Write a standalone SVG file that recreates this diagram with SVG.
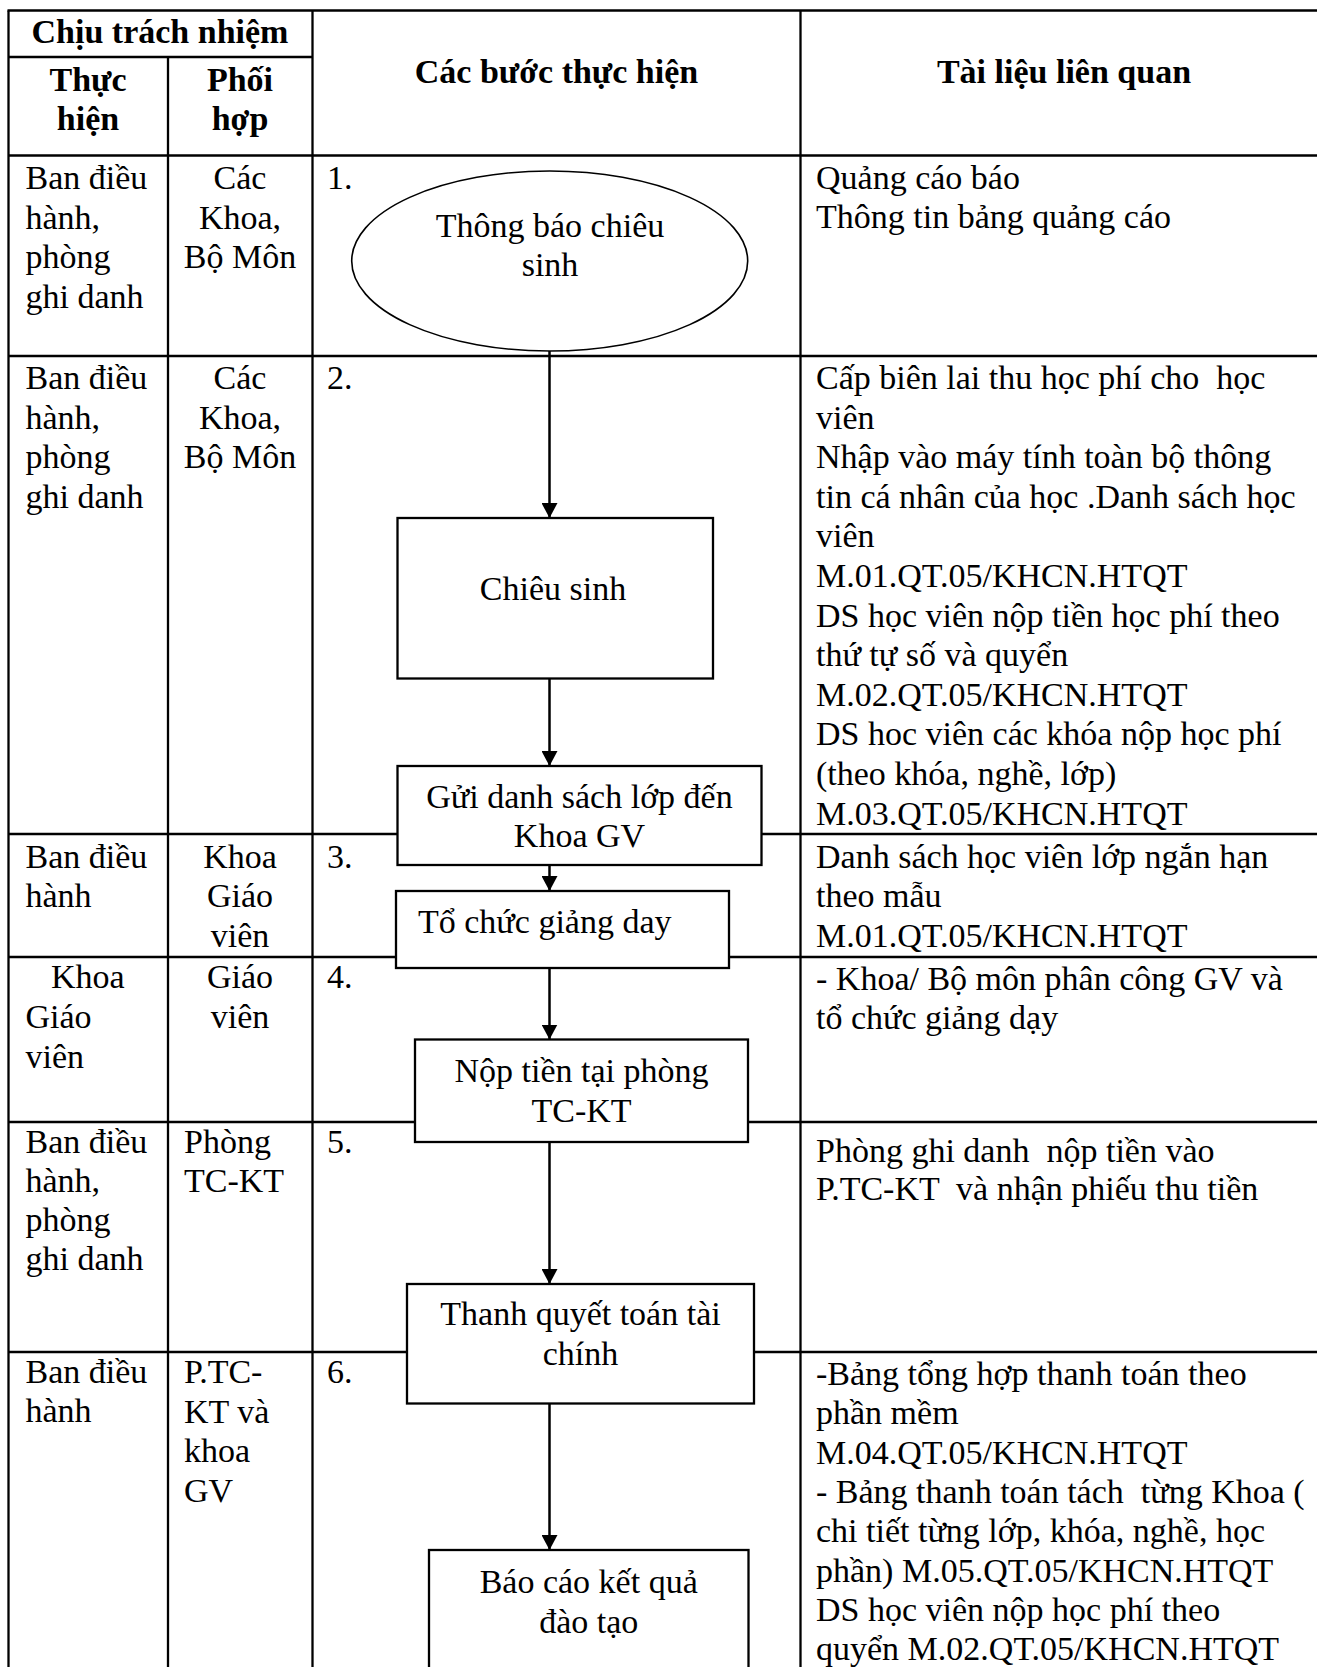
<svg xmlns="http://www.w3.org/2000/svg" width="1317" height="1667" viewBox="0 0 1317 1667">
<defs>
<style>
text{font-family:"Liberation Serif","Times New Roman",serif;font-size:34px;fill:#000;white-space:pre}
.b{font-weight:bold}
.c{text-anchor:middle}
.grid line{stroke:#000;stroke-width:2.3}
.box{fill:#fff;stroke:#000;stroke-width:2.3}
.conn line{stroke:#000;stroke-width:2.5}
</style>
<marker id="ah" markerUnits="userSpaceOnUse" markerWidth="15" markerHeight="16" refX="15" refY="8" orient="auto">
<path d="M0,0 L15,8 L0,16 z" fill="#000"/>
</marker>
</defs>
<rect width="1317" height="1667" fill="#fff"/>
<g id="table" class="grid">
<line x1="7.5" y1="10.5" x2="1317" y2="10.5"/>
<line x1="8.5" y1="10.5" x2="8.5" y2="1667"/>
<line x1="8.5" y1="57" x2="312.5" y2="57"/>
<line x1="168" y1="57" x2="168" y2="1667"/>
<line x1="312.5" y1="10.5" x2="312.5" y2="1667"/>
<line x1="800.5" y1="10.5" x2="800.5" y2="1667"/>
<line x1="8.5" y1="155.5" x2="1317" y2="155.5"/>
<line x1="8.5" y1="356" x2="1317" y2="356"/>
<line x1="8.5" y1="834" x2="1317" y2="834"/>
<line x1="8.5" y1="957" x2="1317" y2="957"/>
<line x1="8.5" y1="1122" x2="1317" y2="1122"/>
<line x1="8.5" y1="1352" x2="1317" y2="1352"/>
</g>
<g id="headers">
<text class="b c" x="160" y="43">Chịu trách nhiệm</text>
<text class="b c" x="88" y="90.5">Thực</text>
<text class="b c" x="88" y="130">hiện</text>
<text class="b c" x="240" y="90.5">Phối</text>
<text class="b c" x="240" y="129.5">hợp</text>
<text class="b c" x="556.5" y="82.5">Các bước thực hiện</text>
<text class="b c" x="1064" y="82.5">Tài liệu liên quan</text>
</g>
<g id="row1">
<text x="25.5" y="189"><tspan x="25.5">Ban điều</tspan><tspan x="25.5" dy="39.5">hành,</tspan><tspan x="25.5" dy="39.5">phòng</tspan><tspan x="25.5" dy="39.5">ghi danh</tspan></text>
<text class="c" x="240" y="189"><tspan x="240">Các</tspan><tspan x="240" dy="39.5">Khoa,</tspan><tspan x="240" dy="39.5">Bộ Môn</tspan></text>
<text x="327" y="189">1.</text>
<text x="816" y="189"><tspan x="816">Quảng cáo báo</tspan><tspan x="816" dy="39">Thông tin bảng quảng cáo</tspan></text>
</g>
<g id="row2">
<text x="25.5" y="389"><tspan x="25.5">Ban điều</tspan><tspan x="25.5" dy="39.5">hành,</tspan><tspan x="25.5" dy="39.5">phòng</tspan><tspan x="25.5" dy="39.5">ghi danh</tspan></text>
<text class="c" x="240" y="389"><tspan x="240">Các</tspan><tspan x="240" dy="39.5">Khoa,</tspan><tspan x="240" dy="39.5">Bộ Môn</tspan></text>
<text x="327" y="389">2.</text>
<text x="816" y="389"><tspan x="816">Cấp biên lai thu học phí cho  học</tspan><tspan x="816" dy="39.6">viên</tspan><tspan x="816" dy="39.6">Nhập vào máy tính toàn bộ thông</tspan><tspan x="816" dy="39.6">tin cá nhân của học .Danh sách học</tspan><tspan x="816" dy="39.6">viên</tspan><tspan x="816" dy="39.6">M.01.QT.05/KHCN.HTQT</tspan><tspan x="816" dy="39.6">DS học viên nộp tiền học phí theo</tspan><tspan x="816" dy="39.6">thứ tự số và quyển</tspan><tspan x="816" dy="39.6">M.02.QT.05/KHCN.HTQT</tspan><tspan x="816" dy="39.6">DS hoc viên các khóa nộp học phí</tspan><tspan x="816" dy="39.6">(theo khóa, nghề, lớp)</tspan><tspan x="816" dy="39.6">M.03.QT.05/KHCN.HTQT</tspan></text>
</g>
<g id="row3">
<text x="25.5" y="867.5"><tspan x="25.5">Ban điều</tspan><tspan x="25.5" dy="39.5">hành</tspan></text>
<text class="c" x="240" y="867.5"><tspan x="240">Khoa</tspan><tspan x="240" dy="39.5">Giáo</tspan><tspan x="240" dy="39.5">viên</tspan></text>
<text x="327" y="867.5">3.</text>
<text x="816" y="867.5"><tspan x="816">Danh sách học viên lớp ngắn hạn</tspan><tspan x="816" dy="39.6">theo mẫu</tspan><tspan x="816" dy="39.6">M.01.QT.05/KHCN.HTQT</tspan></text>
</g>
<g id="row4">
<text x="51" y="988">Khoa</text>
<text x="25.5" y="1028"><tspan x="25.5">Giáo</tspan><tspan x="25.5" dy="40">viên</tspan></text>
<text class="c" x="240" y="988"><tspan x="240">Giáo</tspan><tspan x="240" dy="40">viên</tspan></text>
<text x="327" y="988">4.</text>
<text x="816" y="990"><tspan x="816">- Khoa/ Bộ môn phân công GV và</tspan><tspan x="816" dy="38.5">tổ chức giảng dạy</tspan></text>
</g>
<g id="row5">
<text x="25.5" y="1153"><tspan x="25.5">Ban điều</tspan><tspan x="25.5" dy="39">hành,</tspan><tspan x="25.5" dy="39">phòng</tspan><tspan x="25.5" dy="39">ghi danh</tspan></text>
<text x="184" y="1153"><tspan x="184">Phòng</tspan><tspan x="184" dy="39">TC-KT</tspan></text>
<text x="327" y="1153">5.</text>
<text x="816" y="1161.5"><tspan x="816">Phòng ghi danh  nộp tiền vào</tspan><tspan x="816" dy="38.5">P.TC-KT  và nhận phiếu thu tiền</tspan></text>
</g>
<g id="row6">
<text x="25.5" y="1383"><tspan x="25.5">Ban điều</tspan><tspan x="25.5" dy="39">hành</tspan></text>
<text x="184" y="1383"><tspan x="184">P.TC-</tspan><tspan x="184" dy="39.5">KT và</tspan><tspan x="184" dy="39.5">khoa</tspan><tspan x="184" dy="39.5">GV</tspan></text>
<text x="327" y="1383">6.</text>
<text x="816" y="1385"><tspan x="816">-Bảng tổng hợp thanh toán theo</tspan><tspan x="816" dy="39.3">phần mềm</tspan><tspan x="816" dy="39.3">M.04.QT.05/KHCN.HTQT</tspan><tspan x="816" dy="39.3">- Bảng thanh toán tách  từng Khoa (</tspan><tspan x="816" dy="39.3">chi tiết từng lớp, khóa, nghề, học</tspan><tspan x="816" dy="39.3">phần) M.05.QT.05/KHCN.HTQT</tspan><tspan x="816" dy="39.3">DS học viên nộp học phí theo</tspan><tspan x="816" dy="39.3">quyển M.02.QT.05/KHCN.HTQT</tspan></text>
</g>
<g id="connectors" class="conn">
<line x1="549.5" y1="351" x2="549.5" y2="518" marker-end="url(#ah)"/>
<line x1="549.5" y1="678.5" x2="549.5" y2="766" marker-end="url(#ah)"/>
<line x1="549.5" y1="865" x2="549.5" y2="891" marker-end="url(#ah)"/>
<line x1="549.5" y1="968" x2="549.5" y2="1039.5" marker-end="url(#ah)"/>
<line x1="549.5" y1="1142" x2="549.5" y2="1284" marker-end="url(#ah)"/>
<line x1="549.5" y1="1403.5" x2="549.5" y2="1550" marker-end="url(#ah)"/>
</g>
<g id="n1">
<ellipse cx="549.7" cy="261" rx="198" ry="90" fill="#fff" stroke="#000" stroke-width="1.6"/>
<text class="c" x="550" y="236.5">Thông báo chiêu</text>
<text class="c" x="550" y="276">sinh</text>
</g>
<g id="n2">
<rect class="box" x="397.5" y="518" width="315.5" height="160.5"/>
<text class="c" x="553" y="600">Chiêu sinh</text>
</g>
<g id="n3">
<rect class="box" x="397.5" y="766" width="364" height="99"/>
<text class="c" x="579.5" y="807.5">Gửi danh sách lớp đến</text>
<text class="c" x="579.5" y="847">Khoa GV</text>
</g>
<g id="n4">
<rect class="box" x="396" y="891" width="333" height="77"/>
<text x="418" y="933">Tổ chức giảng day</text>
</g>
<g id="n5">
<rect class="box" x="415" y="1039.5" width="333" height="102.5"/>
<text class="c" x="581.5" y="1081.5">Nộp tiền tại phòng</text>
<text class="c" x="581.5" y="1121.5">TC-KT</text>
</g>
<g id="n6">
<rect class="box" x="407" y="1284" width="347" height="119.5"/>
<text class="c" x="580.5" y="1325">Thanh quyết toán tài</text>
<text class="c" x="580.5" y="1365">chính</text>
</g>
<g id="n7">
<rect class="box" x="429" y="1550" width="319.5" height="140"/>
<text class="c" x="588.7" y="1593">Báo cáo kết quả</text>
<text class="c" x="588.7" y="1633">đào tạo</text>
</g>
</svg>
